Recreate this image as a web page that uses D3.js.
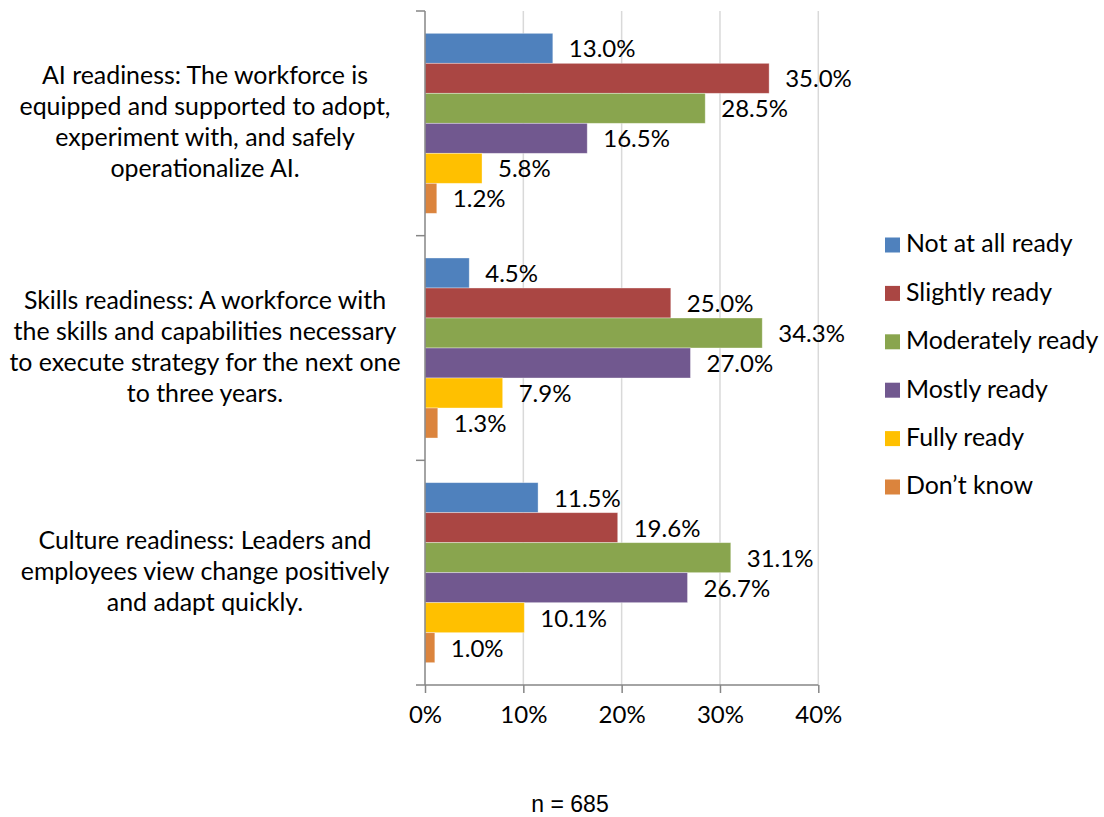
<!DOCTYPE html>
<html>
<head>
<meta charset="utf-8">
<script src="https://cdn.jsdelivr.net/npm/d3@7"></script>
<style>
  html, body { margin: 0; padding: 0; background: #fff; }
  svg text { font-family: Lato, "Open Sans", sans-serif; fill: #000; }
</style>
</head>
<body>
<svg id="chart"></svg>
<script>
const width = 1104;
const height = 817;

const categories = ["AI", "Skills", "Culture"];
const categoryLines = [
  ["AI readiness: The workforce is", "equipped and supported to adopt,", "experiment with, and safely", "operationalize AI."],
  ["Skills readiness: A workforce with", "the skills and capabilities necessary", "to execute strategy for the next one", "to three years."],
  ["Culture readiness: Leaders and", "employees view change positively", "and adapt quickly."]
];
const seriesNames = ["Not at all ready", "Slightly ready", "Moderately ready", "Mostly ready", "Fully ready", "Don\u2019t know"];
const seriesColors = ["#4F81BD", "#AA4643", "#89A54E", "#71588F", "#FFC000", "#DB843D"];
// values per category, in series order (percent)
const aiValues = [13.0, 35.0, 28.5, 16.5, 5.8, 1.2];
const skillsValues = [4.5, 25.0, 34.3, 27.0, 7.9, 1.3];
const cultureValues = [11.5, 19.6, 31.1, 26.7, 10.1, 1.0];
const xTicks = [0, 10, 20, 30, 40];
const note = "n = 685";

const valuesByCategory = [aiValues, skillsValues, cultureValues];
const rows = [];
categories.forEach((c, ci) => {
  valuesByCategory[ci].forEach((v, si) => rows.push({ category: c, series: seriesNames[si], value: v }));
});

const plot = { left: 425, right: 818.3, top: 11, bottom: 685 };
const valueFont = 24;
const labelFont = 24.9;

const svg = d3.select("#chart").attr("width", width).attr("height", height);

const x = d3.scaleLinear().domain([0, 40]).range([plot.left, plot.right]);
const y = d3.scaleBand().domain(categories).range([plot.top, plot.bottom]);
const ySub = d3.scaleBand().domain(seriesNames).range([0, y.bandwidth()]).paddingOuter(0.744);
const color = d3.scaleOrdinal().domain(seriesNames).range(seriesColors);

// gridlines
svg
  .append("g")
  .selectAll("line")
  .data(xTicks.filter((d) => d > 0))
  .join("line")
  .attr("x1", (d) => x(d))
  .attr("x2", (d) => x(d))
  .attr("y1", plot.top)
  .attr("y2", plot.bottom)
  .attr("stroke", "#D9D9D9")
  .attr("stroke-width", 1.5);

// bars
svg
  .append("g")
  .selectAll("rect")
  .data(rows)
  .join("rect")
  .attr("x", x(0))
  .attr("y", (d) => y(d.category) + ySub(d.series))
  .attr("width", (d) => x(d.value) - x(0))
  .attr("height", ySub.bandwidth())
  .attr("fill", (d) => color(d.series))
  .attr("stroke", "#ffffff")
  .attr("stroke-opacity", 0.45)
  .attr("stroke-width", 0.8);

// value labels
svg
  .append("g")
  .selectAll("text")
  .data(rows)
  .join("text")
  .attr("x", (d) => x(d.value) + 16)
  .attr("y", (d) => y(d.category) + ySub(d.series) + ySub.bandwidth() / 2 + 3)
  .attr("dominant-baseline", "middle")
  .style("font-size", `${valueFont}px`)
  .text((d) => d.value.toFixed(1) + "%");

// x axis
svg
  .append("g")
  .attr("transform", `translate(0,${plot.bottom})`)
  .call(d3.axisBottom(x).tickValues(xTicks).tickSize(8).tickPadding(13).tickFormat((d) => d + "%"))
  .call((g) => g.select(".domain").attr("d", `M${plot.left - 9},0H${plot.right}`))
  .call((g) => g.selectAll("line,path").attr("stroke", "#868686").attr("stroke-width", 1.5))
  .call((g) => g.selectAll("text").style("font-size", `${valueFont}px`).style("font-family", "Lato, sans-serif").attr("fill", "#000"));

// y axis with ticks at category boundaries
const boundaries = categories.map((c) => y(c));
svg
  .append("line")
  .attr("x1", plot.left)
  .attr("x2", plot.left)
  .attr("y1", plot.top)
  .attr("y2", plot.bottom)
  .attr("stroke", "#868686")
  .attr("stroke-width", 1.5);
svg
  .append("g")
  .selectAll("line")
  .data(boundaries)
  .join("line")
  .attr("x1", plot.left - 9)
  .attr("x2", plot.left)
  .attr("y1", (d) => d)
  .attr("y2", (d) => d)
  .attr("stroke", "#868686")
  .attr("stroke-width", 1.5);

// category labels
const lineHeight = 31;
const catLabels = svg
  .append("g")
  .selectAll("text")
  .data(categories)
  .join("text")
  .attr("text-anchor", "middle")
  .style("font-size", `${labelFont}px`);
catLabels.each(function (c, ci) {
  const lines = categoryLines[ci];
  const cy = y(c) + y.bandwidth() / 2 + 1;
  const startY = cy - ((lines.length - 1) * lineHeight) / 2;
  d3.select(this)
    .selectAll("tspan")
    .data(lines)
    .join("tspan")
    .attr("x", 205)
    .attr("y", (d, i) => startY + i * lineHeight)
    .attr("dominant-baseline", "middle")
    .text((d) => d);
});

// legend
const legend = svg
  .append("g")
  .selectAll("g")
  .data(seriesNames)
  .join("g")
  .attr("transform", (d, i) => `translate(885,${245 + i * 48.4})`);
legend
  .append("rect")
  .attr("x", 0)
  .attr("y", -7.5)
  .attr("width", 15)
  .attr("height", 15)
  .attr("fill", (d) => color(d));
legend
  .append("text")
  .attr("x", 21)
  .attr("y", 1)
  .attr("dominant-baseline", "middle")
  .style("font-size", `${labelFont}px`)
  .text((d) => d);

// sample size note
svg
  .append("text")
  .attr("x", 570)
  .attr("y", 812)
  .attr("text-anchor", "middle")
  .style("font-family", "'Liberation Sans', Arial, sans-serif")
  .style("font-size", "23px")
  .text(note);
</script>
</body>
</html>
